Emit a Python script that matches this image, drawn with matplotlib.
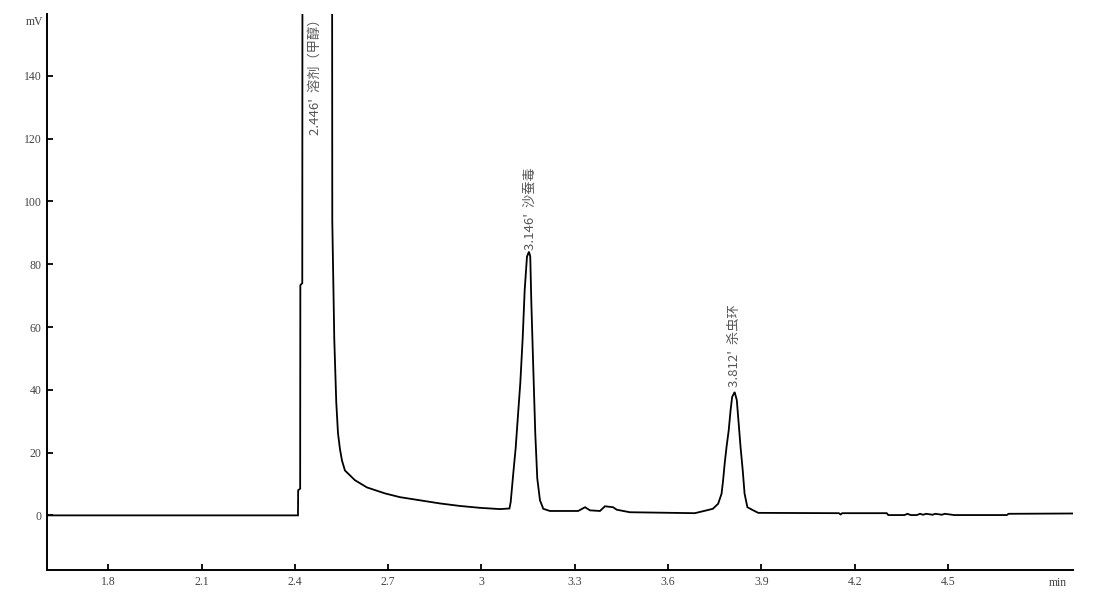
import matplotlib
matplotlib.use("Agg")
import matplotlib.pyplot as plt

# ---- data (time in min, signal in mV) ----
time_min = [
    1.603, 2.4100, 2.4106, 2.4170, 2.4176, 2.4238, 2.4244, 2.450, 2.490, 2.5197,
    2.5203, 2.5267, 2.5331, 2.5386, 2.5450, 2.5514, 2.5610, 2.5932, 2.6318, 2.6897,
    2.7379, 2.8023, 2.8666, 2.9309, 2.9952, 3.0595, 3.0900,
    3.0939, 3.1023, 3.1100, 3.1174, 3.1248, 3.1325, 3.1389, 3.1463, 3.1527, 3.1569,
    3.1601, 3.1666, 3.1730, 3.1794, 3.1881, 3.1987, 3.2200,
    3.3110, 3.3330, 3.3490, 3.3810, 3.3970, 3.4230, 3.4350, 3.4770, 3.6860,
    3.7240, 3.7440, 3.7610, 3.7720, 3.7770, 3.7820, 3.7880, 3.7950, 3.8010, 3.8060,
    3.8140, 3.8210, 3.8270, 3.8330, 3.8400, 3.8460, 3.8550, 3.8740, 3.8900,
    4.1490, 4.1550, 4.1600, 4.1700, 4.3030, 4.3080, 4.3600, 4.3700, 4.3800,
    4.4000, 4.4100, 4.4200, 4.4300, 4.4500, 4.4600, 4.4800, 4.4900, 4.5200,
    4.6890, 4.6950, 4.9020,
]
signal_mv = [
    0.0, 0.0, 8.0, 8.5, 73.3, 74.0, 175.0, 380.0, 330.0, 175.0,
    93.8, 56.2, 36.0, 26.2, 21.1, 17.5, 14.3, 11.2, 8.9, 7.0,
    5.8, 4.8, 3.8, 3.0, 2.4, 2.0, 2.2,
    4.2, 13.4, 21.5, 31.9, 42.1, 56.4, 71.7, 82.4, 84.0, 82.4,
    68.6, 46.9, 26.1, 11.8, 4.8, 2.1, 1.4,
    1.4, 2.6, 1.6, 1.4, 2.9, 2.6, 1.8, 1.0, 0.7,
    1.6, 2.1, 3.7, 6.9, 11.2, 16.5, 21.8, 27.1, 33.5, 37.7,
    39.3, 36.7, 29.3, 21.8, 14.4, 6.9, 2.6, 1.6, 0.8,
    0.7, 0.3, 0.7, 0.7, 0.7, 0.1, 0.1, 0.5, 0.1,
    0.1, 0.5, 0.2, 0.5, 0.2, 0.5, 0.2, 0.5, 0.1,
    0.1, 0.5, 0.6,
]

peak_times = [2.465, 3.156, 3.814]
peak_label_base = [121.0, 84.5, 40.8]
peak_labels = ["2.446'  溶剂（甲醇）", "3.146'  沙蚕毒", "3.812'  杀虫环"]

x_ticks = [1.8, 2.1, 2.4, 2.7, 3.0, 3.3, 3.6, 3.9, 4.2, 4.5]
x_tick_labels = ["1.8", "2.1", "2.4", "2.7", "3", "3.3", "3.6", "3.9", "4.2", "4.5"]
y_ticks = [0, 20, 40, 60, 80, 100, 120, 140]

fig = plt.figure(figsize=(11, 5.96), dpi=100)
ax = fig.add_axes([47 / 1100, 26 / 596, 1026 / 1100, 556 / 596])

ax.plot(time_min, signal_mv, color="black", lw=1.3, solid_joinstyle="miter")

ax.set_xlim(1.603, 4.902)
ax.set_ylim(-17.4, 159.7)

for s in ["top", "right"]:
    ax.spines[s].set_visible(False)
for s in ["left", "bottom"]:
    ax.spines[s].set_linewidth(1.4)
    ax.spines[s].set_color("black")

tick_font = dict(family="Liberation Serif", size=8.5, color="#444444")
ax.set_xticks(x_ticks)
ax.set_xticklabels(x_tick_labels, **tick_font)
ax.set_yticks(y_ticks)
ax.set_yticklabels([str(v) for v in y_ticks], **tick_font)
ax.tick_params(direction="in", length=4, width=1.3, pad=4, colors="black")
for lbl in ax.get_xticklabels() + ax.get_yticklabels():
    lbl.set_color("#444444")

ax.text(-0.004, 0.985, "mV", transform=ax.transAxes, ha="right", va="center",
        **tick_font)
ax.text(0.985, -0.013, "min", transform=ax.transAxes, ha="center", va="top",
        **tick_font)

for t, b, lab in zip(peak_times, peak_label_base, peak_labels):
    ax.text(t, b, lab, rotation=90, ha="center", va="bottom", fontsize=9.5,
            color="#555555", family=["Noto Sans CJK SC", "DejaVu Sans"],
            clip_on=True)

fig.savefig("out.png", dpi=100)
